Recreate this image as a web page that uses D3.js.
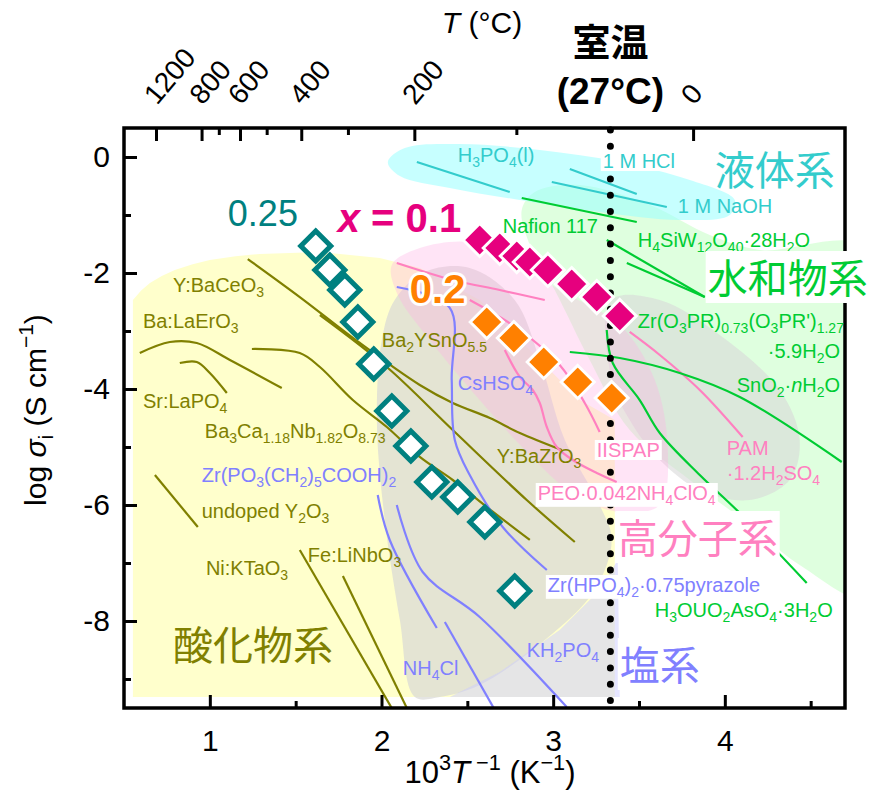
<!DOCTYPE html>
<html>
<head>
<meta charset="utf-8">
<script src="https://cdn.jsdelivr.net/npm/d3@7"></script>
<style>
body { margin: 0; background: #fff; }
svg text { font-family: "Liberation Sans", Arial, sans-serif; }
svg text.jp { font-family: "Noto Sans CJK JP", sans-serif; }
</style>
</head>
<body>
<div id="chart"></div>
<script>
// axis ticks
var xTicks = [1, 2, 3, 4];
var xMinor = [1.5, 2.5, 3.5, 4.5];
var yTicks = [0, -2, -4, -6, -8];
var yMinor = [-1, -3, -5, -7, -9];
var tempMajor = [1200, 800, 600, 400, 200, 0];
var tempMinor = [700, 500, 300, 100];
var roomTemp = 27;

// this work: open teal (x = 0.25), magenta (x = 0.1), orange (x = 0.2)
var x025 = [1.617, 1.699, 1.786, 1.862, 1.955, 2.060, 2.171, 2.293, 2.444, 2.602, 2.776];
var y025 = [-1.534, -1.948, -2.293, -2.845, -3.569, -4.379, -4.983, -5.603, -5.862, -6.293, -7.483];
var x010 = [2.572, 2.689, 2.788, 2.864, 2.969, 3.108, 3.254, 3.388];
var y010 = [-1.431, -1.569, -1.707, -1.810, -1.948, -2.190, -2.414, -2.741];
var x020 = [2.613, 2.771, 2.945, 3.143, 3.341];
var y020 = [-2.845, -3.121, -3.534, -3.879, -4.155];

// shaded material-class regions [1000/T, log sigma]
var regionOxide = [[0.552,-9.31],[0.552,-2.466],[0.60,-2.30],[0.651,-2.172],[0.72,-2.05],[0.796,-1.948],[0.90,-1.85],[1.0,-1.776],[1.15,-1.71],[1.291,-1.672],[1.641,-1.638],[1.990,-1.741],[2.223,-1.914],[2.572,-2.466],[2.922,-3.5],[3.155,-4.19],[3.359,-4.534],[3.359,-9.31]];
var regionSaltGray = [[1.973,-4.534],[2.002,-3.155],[2.077,-2.466],[2.252,-1.983],[2.514,-1.914],[2.776,-2.466],[2.922,-3.5],[3.068,-4.879],[3.271,-6.0],[3.341,-6.603],[3.242,-7.466],[2.951,-8.328],[2.572,-9.103],[2.340,-9.31],[2.194,-9.31],[2.107,-7.983],[2.019,-6.259]];
var regionPam = [[3.341,-2.466],[3.621,-2.466],[3.970,-3.069],[4.320,-4.017],[4.436,-4.879],[4.378,-5.569],[4.145,-5.914],[3.854,-5.741],[3.621,-5.224],[3.446,-4.534],[3.341,-3.845]];
var regionPolymer = [[2.060,-1.862],[2.223,-1.569],[2.514,-1.466],[2.747,-1.741],[3.038,-2.293],[3.388,-2.897],[3.592,-3.845],[3.668,-5.052],[3.621,-6.0],[3.388,-6.121],[3.126,-5.828],[2.864,-5.138],[2.572,-4.190],[2.281,-3.155],[2.095,-2.379]];
var regionHydrate = [[2.817,-0.914],[2.893,-0.603],[3.155,-0.483],[3.563,-0.828],[3.912,-1.345],[4.203,-1.603],[4.85,-1.603],[4.85,-7.6],[4.436,-7.034],[4.145,-6.345],[3.796,-5.569],[3.446,-4.707],[3.213,-3.5],[3.009,-2.293],[2.864,-1.517]];
var regionLiquid = [[2.037,-0.086],[2.136,0.155],[2.456,0.224],[2.922,0.121],[3.388,-0.086],[3.796,-0.397],[4.058,-0.741],[4.029,-1.0],[3.737,-1.086],[3.271,-0.948],[2.806,-0.741],[2.398,-0.534],[2.107,-0.328]];
var regionSalt = [[2.398,-9.31],[2.689,-8.879],[3.038,-8.155],[3.271,-7.466],[3.376,-6.948],[3.388,-9.31]];

// literature curves
var lineYBaCeO3 = [[1.221,-1.759],[1.524,-2.414],[1.874,-3.207],[2.223,-3.931],[2.415,-4.241],[2.631,-4.5],[2.806,-4.759],[3.050,-5.052]];
var lineBa2YSnO = [[1.641,-2.724],[2.031,-3.621],[2.415,-4.707],[2.846,-5.914],[3.126,-6.638]];
var lineBaCaNbO = [[1.245,-3.310],[1.524,-3.379],[1.641,-3.621],[1.833,-4.190],[2.031,-4.655],[2.223,-5.172],[2.415,-5.569],[2.613,-6.034],[2.864,-6.603]];
var lineBaLaErO3 = [[0.592,-3.379],[0.767,-3.190],[0.924,-3.207],[1.117,-3.5],[1.419,-3.983]];
var lineSrLaPO4 = [[0.825,-3.552],[0.924,-3.534],[1.0,-3.724],[1.099,-4.069]];
var lineY2O3 = [[0.680,-5.483],[0.930,-6.379]];
var lineNiKTaO3 = [[1.524,-6.776],[2.066,-9.534]];
var lineFeLiNbO3 = [[1.775,-7.224],[2.153,-9.534]];

var lineCsHSO4 = [[2.089,-2.241],[2.398,-2.603],[2.409,-3.845],[2.427,-4.879],[2.514,-5.483],[2.706,-6.379],[2.963,-7.121]];
var lineZrPO3 = [[1.978,-5.828],[2.048,-6.603],[2.322,-8.121]];
var lineKH2PO4 = [[2.089,-6.0],[2.240,-7.155],[2.572,-7.931],[3.079,-9.483]];
var lineNH4Cl = [[2.369,-8.017],[2.660,-9.534]];

var linePEO = [[2.718,-3.328],[2.806,-3.793],[2.881,-4.017],[2.922,-4.241],[2.963,-4.655],[3.021,-5.0],[3.114,-5.224],[3.254,-5.448],[3.370,-5.603]];
var lineIISPAP = [[2.514,-2.466],[2.806,-2.983],[3.038,-3.586],[3.184,-4.241],[3.271,-4.741]];
var linePolyA = [[2.089,-1.828],[2.415,-2.121],[2.689,-2.293],[2.951,-2.466]];
var linePAM = [[3.446,-3.017],[3.621,-3.414],[3.854,-4.017],[4.104,-4.828]];

var lineNafion = [[2.817,-0.707],[3.487,-1.121]];
var lineHSiW1 = [[3.312,-1.431],[3.883,-2.414]];
var lineHSiW2 = [[3.429,-1.828],[3.883,-2.414]];
var lineZrO3PR = [[3.312,-2.983],[3.347,-3.552],[3.504,-4.190],[3.621,-4.759],[3.854,-5.483],[4.087,-6.138],[4.477,-7.345]];
var lineSnO2 = [[3.097,-3.362],[3.388,-3.466],[3.737,-3.724],[4.087,-4.138],[4.681,-5.259]];

var lineH3PO4 = [[2.206,-0.086],[2.747,-0.603]];
var lineHCl = [[3.097,-0.207],[3.487,-0.638]];
var lineNaOH = [[2.992,-0.431],[3.662,-0.862]];

// labels: text, 1000/T, log sigma (left / baseline)
var oxideLabels = [
	["Y:BaCeO_{3}", 0.785, -2.328],
	["Ba:LaErO_{3}", 0.610, -2.948],
	["Sr:LaPO_{4}", 0.610, -4.328],
	["Ba_{3}Ca_{1.18}Nb_{1.82}O_{8.73}", 0.971, -4.845],
	["undoped Y_{2}O_{3}", 0.953, -6.224],
	["Ba_{2}YSnO_{5.5}", 2.002, -3.276],
	["Y:BaZrO_{3}", 2.672, -5.276],
	["Fe:LiNbO_{3}", 1.571, -6.983],
	["Ni:KTaO_{3}", 0.977, -7.207]
];
var saltLabels = [
	["Zr(PO_{3}(CH_{2})_{5}COOH)_{2}", 0.953, -5.603],
	["CsHSO_{4}", 2.444, -4.017],
	["NH_{4}Cl", 2.124, -8.931],
	["KH_{2}PO_{4}", 2.846, -8.621]
];
var saltBoxed = [["Zr(HPO_{4})_{2}·0.75pyrazole", 2.969, -7.5]];
var polymerLabels = [["PAM", 4.011, -5.138], ["·1.2H_{2}SO_{4}", 4.011, -5.569]];
var polymerBoxed = [["IISPAP", 3.254, -5.172], ["PEO·0.042NH_{4}ClO_{4}", 2.910, -5.914]];
var hydrateLabels = [
	["Nafion 117", 2.706, -1.310],
	["H_{4}SiW_{12}O_{40}·28H_{2}O", 3.493, -1.552],
	["Zr(O_{3}PR)_{0.73}(O_{3}PR')_{1.27}", 3.493, -2.948],
	["·5.9H_{2}O", 4.250, -3.466],
	["SnO_{2}·*{n}H_{2}O", 4.069, -4.052],
	["H_{3}OUO_{2}AsO_{4}·3H_{2}O", 3.592, -7.931]
];
var liquidLabels = [["H_{3}PO_{4}(l)", 2.444, -0.086], ["1 M NaOH", 3.726, -0.966]];
var liquidBoxed = [["1 M HCl", 3.289, -0.190]];

var classLabels = [
	["液体系", 3.941, -0.483, false],
	["水和物系", 3.900, -2.345, true],
	["高分子系", 3.376, -6.828, true],
	["塩系", 3.388, -9.017, true],
	["酸化物系", 0.785, -8.672, false]
];

var OLIVE = "#808000", BLUE = "#8080ff", PINK = "#ff80c0", GREEN = "#00cc33", CYAN = "#33cccc";
var TEAL = "#008080", MAGENTA = "#e6007e", ORANGE = "#ff8000";

var W = 869, H = 790;
var margin = {top: 128, left: 124},
	width = 721,
	height = 580;

var svg = d3.select("#chart").append("svg")
	.attr("width", W)
	.attr("height", H);
svg.append("rect").attr("width", W).attr("height", H).attr("fill", "#fff");

var g = svg.append("g")
	.attr("transform", "translate(" + margin.left + "," + margin.top + ")");

var x = d3.scaleLinear().domain([0.5, 4.7]).range([0, width]);
var y = d3.scaleLinear().domain([-9.5, 0.5]).range([height, 0]);
// the temperature axis on top was laid out with its own scale
var xTop = d3.scaleLinear().domain([0.501, 4.507]).range([0, width]);

g.append("clipPath").attr("id", "plotclip")
	.append("rect").attr("width", width).attr("height", height);

var inner = g.append("g").attr("clip-path", "url(#plotclip)");

// regions
function areaPath(curve){
	return d3.line().x(function(d){ return x(d[0]); }).y(function(d){ return y(d[1]); }).curve(curve);
}
var regions = [
	{pts: regionOxide, fill: "#ffffcc", op: 1, curve: d3.curveLinearClosed},
	{pts: regionHydrate, fill: "#b3ffb3", op: 0.42, curve: d3.curveCatmullRomClosed.alpha(0.5)},
	{pts: regionSaltGray, fill: "#d9d9d6", op: 0.7, curve: d3.curveCatmullRomClosed.alpha(0.5)},
	{pts: regionPam, fill: "#d9d9d9", op: 0.6, curve: d3.curveCatmullRomClosed.alpha(0.5)},
	{pts: regionSalt, fill: "#ccccff", op: 0.5, curve: d3.curveLinearClosed},
	{pts: regionPolymer, fill: "#ffb3e6", op: 0.35, curve: d3.curveCatmullRomClosed.alpha(0.5)},
	{pts: regionLiquid, fill: "#99ffff", op: 0.55, curve: d3.curveCatmullRomClosed.alpha(0.5)}
];
regions.forEach(function(r){
	inner.append("path")
		.attr("d", areaPath(r.curve)(r.pts))
		.attr("fill", r.fill)
		.attr("fill-opacity", r.op);
});

// literature lines
var curves = [
	[lineYBaCeO3, OLIVE], [lineBa2YSnO, OLIVE], [lineBaCaNbO, OLIVE], [lineBaLaErO3, OLIVE],
	[lineSrLaPO4, OLIVE], [lineY2O3, OLIVE], [lineNiKTaO3, OLIVE], [lineFeLiNbO3, OLIVE],
	[lineCsHSO4, BLUE], [lineZrPO3, BLUE], [lineKH2PO4, BLUE], [lineNH4Cl, BLUE],
	[linePEO, PINK], [lineIISPAP, PINK], [linePolyA, PINK], [linePAM, PINK],
	[lineNafion, GREEN], [lineHSiW1, GREEN], [lineHSiW2, GREEN], [lineZrO3PR, GREEN], [lineSnO2, GREEN],
	[lineH3PO4, CYAN], [lineHCl, CYAN], [lineNaOH, CYAN]
];
var curveLine = areaPath(d3.curveCatmullRom.alpha(0.5));
curves.forEach(function(c){
	inner.append("path")
		.attr("d", curveLine(c[0]))
		.attr("fill", "none")
		.attr("stroke", c[1])
		.attr("stroke-width", 2.2);
});

// axes (ticks point inward)
function styleAxis(sel){
	sel.select(".domain").remove();
	sel.selectAll("line").attr("stroke", "#000").attr("stroke-width", 3);
	sel.selectAll("text").attr("font-size", 30).attr("fill", "#000")
		.style("font-family", "'Liberation Sans', Arial, sans-serif");
}
g.append("g").attr("transform", "translate(0," + height + ")")
	.call(d3.axisBottom(x).tickValues(xTicks).tickSize(-13).tickPadding(22).tickFormat(d3.format("d")))
	.call(styleAxis);
g.append("g").attr("transform", "translate(0," + height + ")")
	.call(d3.axisBottom(x).tickValues(xMinor).tickSize(-7).tickFormat(""))
	.call(styleAxis);
g.append("g")
	.call(d3.axisLeft(y).tickValues(yTicks).tickSize(-13).tickPadding(14).tickFormat(function(d){ return String(d); }))
	.call(styleAxis);
g.append("g")
	.call(d3.axisLeft(y).tickValues(yMinor).tickSize(-7).tickFormat(""))
	.call(styleAxis);

function invT(t){ return 1000 / (t + 273); }
g.append("g")
	.call(d3.axisTop(xTop).tickValues(tempMajor.map(invT)).tickSize(-13).tickFormat(""))
	.call(styleAxis);
g.append("g")
	.call(d3.axisTop(xTop).tickValues(tempMinor.map(invT)).tickSize(-7).tickFormat(""))
	.call(styleAxis);

g.selectAll(".ttick")
	.data(tempMajor)
	.enter().append("text")
	.attr("class", "ttick")
	.attr("font-size", 28)
	.attr("transform", function(d){ return "translate(" + (xTop(invT(d)) + 1) + ",-22) rotate(-50)"; })
	.text(function(d){ return d; });

g.append("rect")
	.attr("width", width).attr("height", height)
	.attr("fill", "none").attr("stroke", "#000").attr("stroke-width", 3.5);

// room temperature
g.append("line")
	.attr("x1", x(invT(roomTemp))).attr("x2", x(invT(roomTemp)))
	.attr("y1", 2).attr("y2", height)
	.attr("stroke", "#000").attr("stroke-width", 7)
	.attr("stroke-linecap", "round")
	.attr("stroke-dasharray", "0 16.3");

// text with _{sub}, ^{sup}, *{italic}
function rich(sel, str, fs){
	var parts = str.split(/(_\{[^}]*\}|\^\{[^}]*\}|\*\{[^}]*\})/).filter(function(s){ return s.length; });
	var cur = 0;
	parts.forEach(function(p){
		var off = 0, size = null, ital = false, txt = p;
		if (p.indexOf("_{") == 0){ off = 0.24 * fs; size = 0.7 * fs; txt = p.slice(2, -1); }
		else if (p.indexOf("^{") == 0){ off = -0.42 * fs; size = 0.7 * fs; txt = p.slice(2, -1); }
		else if (p.indexOf("*{") == 0){ ital = true; txt = p.slice(2, -1); }
		var t = sel.append("tspan").attr("dy", off - cur).text(txt);
		cur = off;
		if (size) t.attr("font-size", size);
		if (ital) t.attr("font-style", "italic");
	});
}

function label(parent, item, color, fs, box, jp){
	var t = parent.append("text")
		.attr("x", x(item[1])).attr("y", y(item[2]))
		.attr("fill", color).attr("font-size", fs);
	if (jp) t.attr("class", "jp");
	rich(t, item[0], fs);
	if (box){
		var b = t.node().getBBox();
		parent.insert("rect", function(){ return t.node(); })
			.attr("x", b.x - 2).attr("y", b.y + (jp ? 4 : 1))
			.attr("width", b.width + 4).attr("height", b.height - (jp ? 6 : 2))
			.attr("fill", "#fff");
	}
	return t;
}

var labels = g.append("g");
oxideLabels.forEach(function(d){ label(labels, d, OLIVE, 20); });
saltLabels.forEach(function(d){ label(labels, d, BLUE, 20); });
saltBoxed.forEach(function(d){ label(labels, d, BLUE, 20, true); });
polymerLabels.forEach(function(d){ label(labels, d, PINK, 20); });
polymerBoxed.forEach(function(d){ label(labels, d, PINK, 20, true); });
hydrateLabels.forEach(function(d){ label(labels, d, GREEN, 20); });
liquidLabels.forEach(function(d){ label(labels, d, CYAN, 20); });
liquidBoxed.forEach(function(d){ label(labels, d, CYAN, 20, true); });

var classColors = [CYAN, GREEN, PINK, BLUE, OLIVE];
classLabels.forEach(function(d, i){ label(labels, d, classColors[i], 40, d[3], true); });

// markers
function diamond(r){ return "M0," + (-r) + "L" + r + ",0L0," + r + "L" + (-r) + ",0Z"; }

g.selectAll(".m025").data(x025).enter().append("path")
	.attr("d", diamond(15))
	.attr("transform", function(d, i){ return "translate(" + x(d) + "," + y(y025[i]) + ")"; })
	.attr("fill", "#fff").attr("stroke", TEAL).attr("stroke-width", 5).attr("stroke-linejoin", "miter");

g.selectAll(".m010").data(x010).enter().append("path")
	.attr("d", diamond(16.5))
	.attr("transform", function(d, i){ return "translate(" + x(d) + "," + y(y010[i]) + ")"; })
	.attr("fill", MAGENTA).attr("stroke", "#fff").attr("stroke-width", 3);

g.selectAll(".m020").data(x020).enter().append("path")
	.attr("d", diamond(16.5))
	.attr("transform", function(d, i){ return "translate(" + x(d) + "," + y(y020[i]) + ")"; })
	.attr("fill", ORANGE).attr("stroke", "#fff").attr("stroke-width", 3);

// composition labels
g.append("text").attr("x", x(1.105)).attr("y", y(-1.19))
	.attr("font-size", 36).attr("fill", TEAL).text("0.25");
var t01 = g.append("text").attr("x", x(1.745)).attr("y", y(-1.293))
	.attr("font-size", 40).attr("font-weight", "bold").attr("fill", MAGENTA)
	.attr("stroke", "#fff").attr("stroke-width", 6).attr("paint-order", "stroke").attr("stroke-linejoin", "round");
rich(t01, "*{x} = 0.1", 40);
g.append("text").attr("x", x(2.165)).attr("y", y(-2.517))
	.attr("font-size", 40).attr("font-weight", "bold").attr("fill", ORANGE)
	.attr("stroke", "#fff").attr("stroke-width", 6).attr("paint-order", "stroke").attr("stroke-linejoin", "round")
	.text("0.2");

// axis titles
var yt = svg.append("text")
	.attr("transform", "translate(46," + (margin.top + height / 2 - 8) + ") rotate(-90)")
	.attr("text-anchor", "middle").attr("font-size", 30);
rich(yt, "log *{σ}_{i} (S cm^{−1})", 30);

var xt = svg.append("text")
	.attr("x", 490).attr("y", 783)
	.attr("text-anchor", "middle").attr("font-size", 31);
rich(xt, "10^{3}*{T}^{ −1} (K^{−1})", 31);

var tt = svg.append("text")
	.attr("x", 482).attr("y", 33)
	.attr("text-anchor", "middle").attr("font-size", 30);
rich(tt, "*{T} (°C)", 30);

svg.append("text").attr("class", "jp")
	.attr("x", margin.left + x(invT(roomTemp))).attr("y", 56)
	.attr("text-anchor", "middle").attr("font-size", 38).attr("font-weight", "bold")
	.text("室温");
svg.append("text")
	.attr("x", margin.left + x(invT(roomTemp))).attr("y", 104)
	.attr("text-anchor", "middle").attr("font-size", 37).attr("font-weight", "bold")
	.text("(27°C)");
</script>
</body>
</html>
